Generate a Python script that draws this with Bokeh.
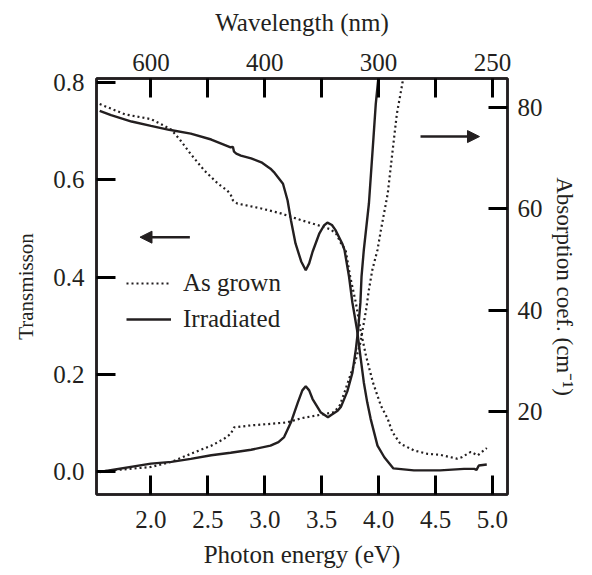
from bokeh.plotting import figure
from bokeh.models import (LinearAxis, Range1d, FixedTicker, NumeralTickFormatter,
                          Legend, LegendItem, Arrow, NormalHead)
from bokeh.embed import file_html
from bokeh.resources import INLINE

# ---------------- data ----------------
energy_T_irr = [1.55, 1.65, 1.83, 2.00, 2.16, 2.35, 2.53, 2.70, 2.72, 2.73,
                2.75, 2.79, 2.88, 2.97, 3.05, 3.08, 3.16, 3.20, 3.23, 3.27,
                3.32, 3.36, 3.39, 3.42, 3.48, 3.52, 3.55, 3.59, 3.62, 3.68,
                3.70, 3.74, 3.77, 3.81, 3.84, 3.87, 3.90, 3.93, 3.99, 4.05,
                4.13, 4.31, 4.54, 4.75, 4.84, 4.86, 4.88, 4.95]
trans_irr = [0.742, 0.733, 0.720, 0.711, 0.703, 0.695, 0.683, 0.667, 0.668, 0.658,
             0.654, 0.650, 0.644, 0.636, 0.623, 0.616, 0.592, 0.558, 0.517, 0.469,
             0.432, 0.414, 0.428, 0.452, 0.490, 0.506, 0.512, 0.507, 0.497, 0.469,
             0.456, 0.401, 0.347, 0.292, 0.237, 0.183, 0.142, 0.108, 0.053, 0.029,
             0.006, 0.002, 0.002, 0.005, 0.005, 0.003, 0.012, 0.014]

energy_T_as = [1.55, 1.77, 2.00, 2.12, 2.18, 2.26, 2.35, 2.47, 2.59, 2.67,
               2.70, 2.72, 2.76, 2.97, 3.14, 3.32, 3.49, 3.58, 3.63, 3.67,
               3.71, 3.75, 3.80, 3.84, 3.89, 3.95, 4.02, 4.08, 4.12, 4.19,
               4.31, 4.43, 4.54, 4.69, 4.73, 4.81, 4.87, 4.95]
trans_as = [0.756, 0.735, 0.725, 0.711, 0.703, 0.681, 0.653, 0.619, 0.592, 0.578,
            0.570, 0.558, 0.551, 0.541, 0.531, 0.517, 0.505, 0.498, 0.488, 0.469,
            0.456, 0.401, 0.347, 0.292, 0.237, 0.183, 0.135, 0.108, 0.081, 0.057,
            0.043, 0.036, 0.034, 0.026, 0.029, 0.040, 0.033, 0.048]

energy_A_irr = [1.55, 2.00, 2.18, 2.35, 2.53, 2.70, 2.88, 3.05, 3.12, 3.17,
                3.23, 3.29, 3.33, 3.36, 3.39, 3.42, 3.49, 3.555, 3.58, 3.64,
                3.67, 3.725, 3.77, 3.80, 3.82, 3.84, 3.85, 3.87, 3.915, 3.955,
                3.975, 3.995, 4.01]
abs_irr = [8.1, 9.75, 10.1, 10.7, 11.4, 11.9, 12.5, 13.3, 14.0, 15.0,
           17.9, 21.8, 24.2, 25.0, 24.2, 22.5, 19.9, 18.9, 19.3, 20.2,
           21.0, 24.0, 27.7, 32.3, 36.2, 41.5, 46.7, 51.9, 61.1, 74.1,
           80.7, 85.2, 88.0]

energy_A_as = [1.55, 2.00, 2.18, 2.35, 2.53, 2.64, 2.70, 2.73, 2.88, 3.05,
               3.20, 3.32, 3.49, 3.61, 3.66, 3.70, 3.75, 3.80, 3.84, 3.86,
               3.89, 3.915, 3.945, 3.99, 4.02, 4.08, 4.12, 4.16, 4.21, 4.23]
abs_as = [8.2, 9.1, 10.1, 11.7, 13.3, 14.6, 15.6, 16.9, 17.3, 17.6,
          17.9, 18.7, 19.4, 19.9, 21.3, 23.8, 27.1, 30.3, 33.6, 36.2,
          40.1, 44.1, 48.0, 51.9, 55.8, 63.0, 70.9, 78.7, 84.9, 88.0]

energy_ticks = [2.0, 2.5, 3.0, 3.5, 4.0, 4.5, 5.0]
wavelength_tick_energy = [2.0, 3.0, 4.0, 5.0]
wavelength_tick_labels = ["600", "400", "300", "250"]
trans_ticks = [0.0, 0.2, 0.4, 0.6, 0.8]
abs_ticks = [20, 40, 60, 80]
series_labels = ["As grown", "Irradiated"]

# axis extents
energy_range = (1.522, 5.132)
trans_range = (-0.0477, 0.8086)
abs_range = (3.67, 85.7)

# arrow positions (data units)
left_arrow = dict(x_start=2.342, x_end=1.904, y=0.482)
right_arrow = dict(x_start=4.368, x_end=4.886, y=74.25)

INK = "#231f20"
FONT = "Liberation Serif"

W, H = 584, 570
BORDER = dict(left=96, right=77, top=78, bottom=74)

p = figure(width=W, height=H, output_backend="svg", toolbar_location=None,
           x_range=Range1d(*energy_range), y_range=Range1d(*trans_range),
           min_border_left=BORDER["left"], min_border_right=BORDER["right"],
           min_border_top=BORDER["top"], min_border_bottom=BORDER["bottom"])
p.extra_y_ranges = {"abs": Range1d(*abs_range)}
p.xgrid.visible = False
p.ygrid.visible = False
p.outline_line_color = INK
p.outline_line_width = 2.5
p.background_fill_color = "white"
p.border_fill_color = "white"


def style(ax, standoff, label_standoff, label_size="25px"):
    ax.axis_line_width = 2.5
    ax.axis_line_color = INK
    ax.major_tick_line_width = 3
    ax.major_tick_line_color = "black"
    ax.major_tick_in = 19
    ax.major_tick_out = 0
    ax.minor_tick_line_color = None
    ax.major_label_text_font = FONT
    ax.major_label_text_font_size = "25px"
    ax.major_label_text_color = INK
    ax.major_label_standoff = standoff
    ax.axis_label_text_font = FONT
    ax.axis_label_text_font_size = label_size
    ax.axis_label_text_font_style = "normal"
    ax.axis_label_text_color = INK
    ax.axis_label_standoff = label_standoff


bottom = p.xaxis[0]
bottom.ticker = FixedTicker(ticks=energy_ticks)
bottom.formatter = NumeralTickFormatter(format="0.0")
bottom.axis_label = "Photon energy (eV)"
style(bottom, 16, 10)

left = p.yaxis[0]
left.ticker = FixedTicker(ticks=trans_ticks)
left.formatter = NumeralTickFormatter(format="0.0")
left.axis_label = "Transmisson"
style(left, 12, 12, "21px")

top_labels = {e: "" for e in energy_ticks}
top_labels.update({e: l for e, l in zip(wavelength_tick_energy, wavelength_tick_labels)})
top = LinearAxis(ticker=FixedTicker(ticks=energy_ticks),
                 major_label_overrides=top_labels,
                 axis_label="Wavelength (nm)")
style(top, 8, 15)
p.add_layout(top, "above")

right = LinearAxis(y_range_name="abs", ticker=FixedTicker(ticks=abs_ticks),
                   axis_label="Absorption coef. (cm\u207b\u00b9)")
style(right, 10, 6, "23px")
p.add_layout(right, "right")

r_T_as = p.line(energy_T_as, trans_as, line_color=INK, line_width=2.2, line_dash="2 3")
r_T_irr = p.line(energy_T_irr, trans_irr, line_color=INK, line_width=2.4)
p.line(energy_A_as, abs_as, y_range_name="abs", line_color=INK, line_width=2.2,
       line_dash="2 3")
p.line(energy_A_irr, abs_irr, y_range_name="abs", line_color=INK, line_width=2.4)

p.add_layout(Arrow(end=NormalHead(size=12, fill_color=INK, line_color=INK),
                   x_start=left_arrow["x_start"], x_end=left_arrow["x_end"],
                   y_start=left_arrow["y"], y_end=left_arrow["y"],
                   line_color=INK, line_width=2.5))
p.add_layout(Arrow(end=NormalHead(size=12, fill_color=INK, line_color=INK),
                   x_start=right_arrow["x_start"], x_end=right_arrow["x_end"],
                   y_start=right_arrow["y"], y_end=right_arrow["y"],
                   y_range_name="abs", line_color=INK, line_width=2.5))

legend = Legend(items=[LegendItem(label=series_labels[0], renderers=[r_T_as]),
                       LegendItem(label=series_labels[1], renderers=[r_T_irr])],
                location=(30, 157), border_line_color=None, background_fill_alpha=0,
                padding=0, margin=0, spacing=0, glyph_width=45, glyph_height=36,
                label_height=36, label_standoff=12, label_text_font=FONT,
                label_text_font_size="25px", label_text_color=INK)
p.add_layout(legend)

open("out.html", "w").write(file_html(p, INLINE))
